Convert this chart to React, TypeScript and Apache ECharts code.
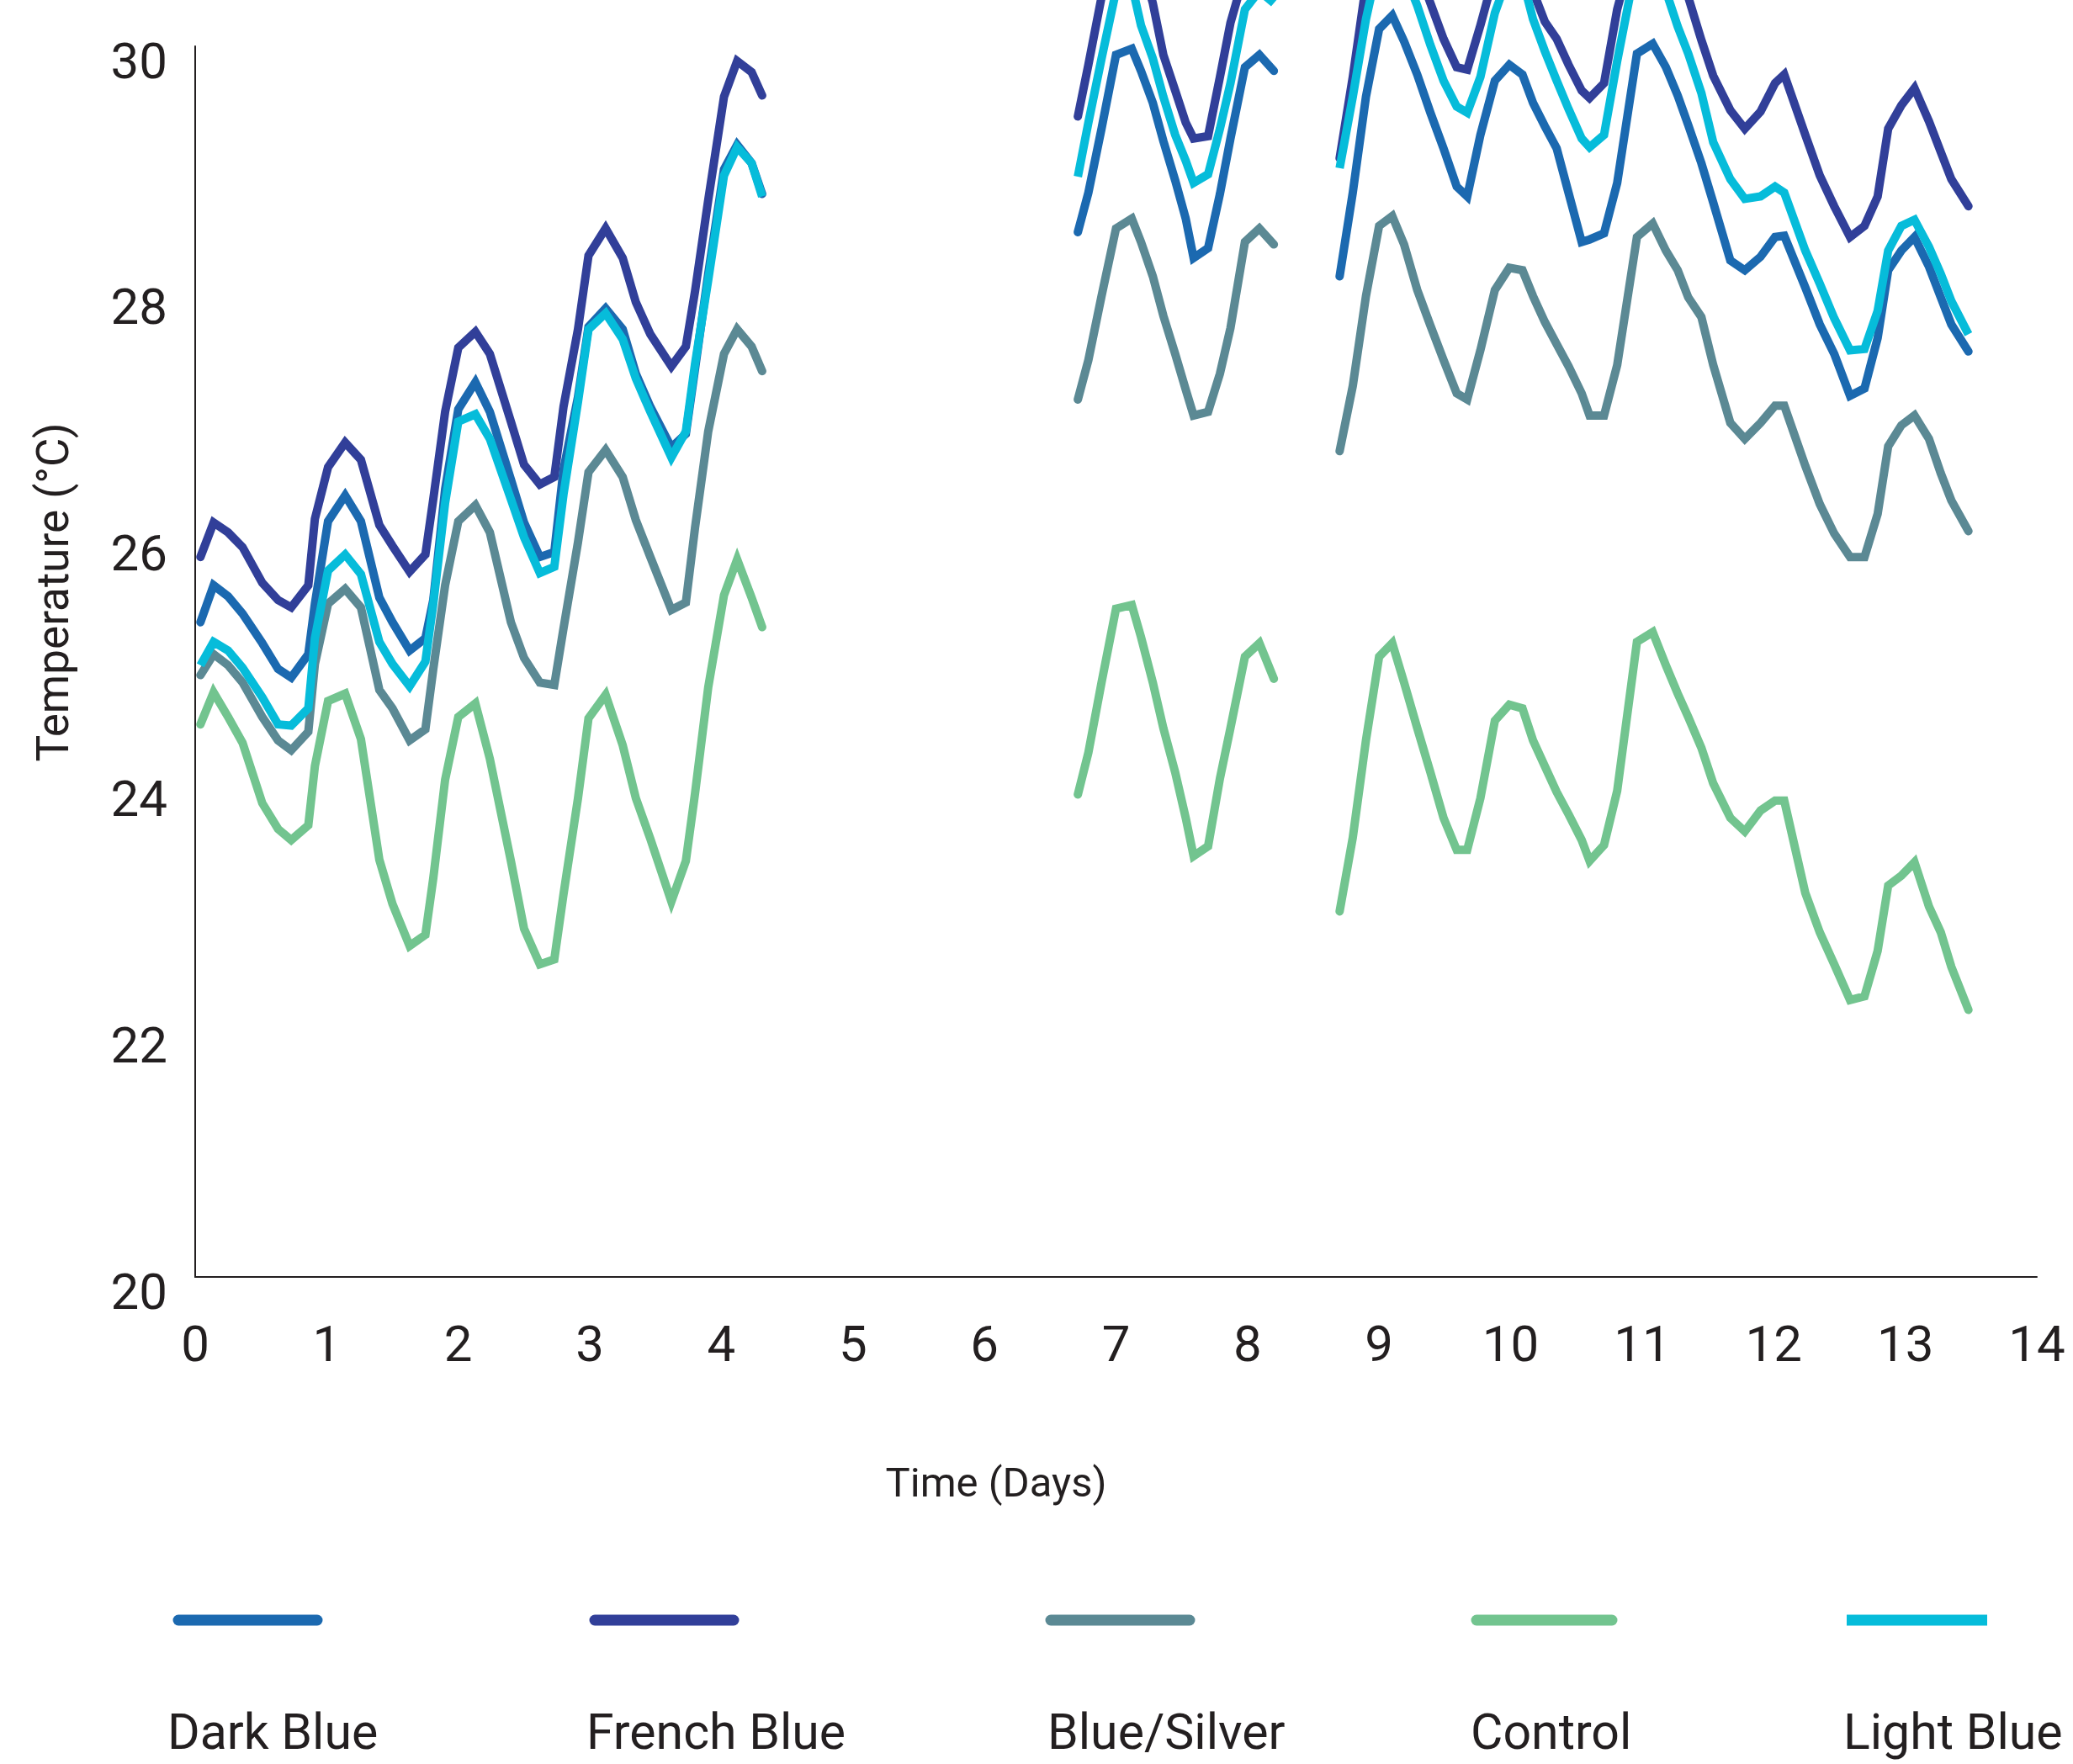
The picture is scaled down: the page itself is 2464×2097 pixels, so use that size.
import React, { useEffect, useRef } from "react";
import * as echarts from "echarts";

// ---- Data (time in days, temperature in °C) ----
const times1 = [0.04, 0.14, 0.25, 0.36, 0.51, 0.63, 0.73, 0.86, 0.91, 1.01, 1.14, 1.26, 1.40, 1.50, 1.63, 1.75, 1.81, 1.90, 2.00, 2.13, 2.24, 2.40, 2.50, 2.62, 2.73, 2.80, 2.91, 2.99, 3.12, 3.25, 3.35, 3.46, 3.62, 3.73, 3.80, 3.90, 4.02, 4.12, 4.23, 4.31];
const times2 = [6.71, 6.79, 6.89, 7.00, 7.12, 7.19, 7.28, 7.36, 7.45, 7.53, 7.59, 7.70, 7.79, 7.87, 7.98, 8.09, 8.20];
const times3 = [8.70, 8.80, 8.90, 9.00, 9.10, 9.19, 9.29, 9.39, 9.49, 9.59, 9.67, 9.77, 9.88, 9.99, 10.09, 10.17, 10.26, 10.35, 10.44, 10.54, 10.60, 10.71, 10.81, 10.96, 11.08, 11.18, 11.27, 11.35, 11.45, 11.54, 11.67, 11.78, 11.90, 12.01, 12.08, 12.24, 12.35, 12.46, 12.58, 12.69, 12.79, 12.87, 12.97, 13.07, 13.18, 13.27, 13.35, 13.48];

const darkBlue1 = [25.32, 25.62, 25.53, 25.39, 25.15, 24.94, 24.87, 25.06, 25.47, 26.14, 26.35, 26.14, 25.52, 25.32, 25.09, 25.19, 25.50, 26.40, 27.05, 27.27, 27.03, 26.48, 26.13, 25.85, 25.89, 26.56, 27.15, 27.72, 27.87, 27.70, 27.34, 27.07, 26.74, 26.85, 27.38, 28.15, 29.00, 29.20, 29.05, 28.80];
const darkBlue2 = [28.49, 28.81, 29.33, 29.93, 29.98, 29.80, 29.54, 29.23, 28.91, 28.60, 28.28, 28.36, 28.80, 29.25, 29.83, 29.93, 29.80];
const darkBlue3 = [28.13, 28.81, 29.59, 30.14, 30.25, 30.04, 29.77, 29.46, 29.17, 28.86, 28.78, 29.28, 29.72, 29.85, 29.77, 29.54, 29.35, 29.17, 28.81, 28.41, 28.43, 28.48, 28.89, 29.94, 30.02, 29.83, 29.60, 29.36, 29.05, 28.73, 28.26, 28.18, 28.29, 28.45, 28.46, 28.04, 27.74, 27.50, 27.16, 27.22, 27.63, 28.18, 28.34, 28.45, 28.21, 27.96, 27.74, 27.52];

const frenchBlue1 = [25.85, 26.13, 26.05, 25.93, 25.64, 25.50, 25.44, 25.62, 26.16, 26.58, 26.78, 26.64, 26.11, 25.94, 25.73, 25.87, 26.32, 27.03, 27.55, 27.68, 27.50, 26.95, 26.60, 26.44, 26.50, 27.07, 27.70, 28.30, 28.52, 28.28, 27.92, 27.66, 27.40, 27.56, 28.01, 28.75, 29.59, 29.88, 29.79, 29.60];
const frenchBlue2 = [29.43, 29.85, 30.40, 30.80, 30.85, 30.70, 30.35, 29.93, 29.64, 29.38, 29.25, 29.27, 29.75, 30.19, 30.60, 30.80, 30.70];
const frenchBlue3 = [29.09, 29.75, 30.50, 31.00, 31.10, 30.90, 30.65, 30.35, 30.06, 29.83, 29.81, 30.17, 30.60, 30.75, 30.70, 30.45, 30.20, 30.06, 29.85, 29.64, 29.58, 29.70, 30.30, 30.90, 31.00, 30.80, 30.60, 30.40, 30.05, 29.76, 29.48, 29.33, 29.47, 29.70, 29.77, 29.28, 28.95, 28.70, 28.45, 28.54, 28.78, 29.33, 29.52, 29.66, 29.39, 29.14, 28.92, 28.70];

const blueSilver1 = [24.89, 25.06, 24.97, 24.83, 24.55, 24.36, 24.28, 24.43, 24.98, 25.47, 25.59, 25.44, 24.77, 24.62, 24.36, 24.45, 24.94, 25.62, 26.14, 26.27, 26.05, 25.32, 25.03, 24.83, 24.81, 25.27, 25.97, 26.54, 26.72, 26.50, 26.15, 25.85, 25.42, 25.48, 26.09, 26.87, 27.50, 27.70, 27.56, 27.36];
const blueSilver2 = [27.13, 27.45, 27.97, 28.52, 28.60, 28.41, 28.13, 27.81, 27.50, 27.21, 27.00, 27.03, 27.34, 27.71, 28.41, 28.52, 28.39];
const blueSilver3 = [26.71, 27.24, 27.97, 28.54, 28.62, 28.39, 28.02, 27.73, 27.45, 27.18, 27.13, 27.53, 28.02, 28.20, 28.18, 27.97, 27.76, 27.58, 27.40, 27.18, 27.00, 27.00, 27.41, 28.45, 28.56, 28.34, 28.18, 27.96, 27.80, 27.41, 26.94, 26.81, 26.94, 27.08, 27.08, 26.59, 26.28, 26.04, 25.85, 25.85, 26.20, 26.75, 26.92, 27.00, 26.81, 26.53, 26.31, 26.06];

const control1 = [24.49, 24.75, 24.55, 24.34, 23.85, 23.64, 23.55, 23.67, 24.15, 24.68, 24.74, 24.37, 23.39, 23.03, 22.69, 22.78, 23.24, 24.04, 24.55, 24.66, 24.21, 23.38, 22.83, 22.54, 22.58, 23.11, 23.89, 24.54, 24.73, 24.32, 23.89, 23.56, 23.05, 23.38, 23.93, 24.79, 25.54, 25.83, 25.52, 25.28];
const control2 = [23.92, 24.26, 24.83, 25.43, 25.46, 25.20, 24.83, 24.46, 24.10, 23.73, 23.42, 23.50, 24.05, 24.46, 25.04, 25.15, 24.86];
const control3 = [22.97, 23.57, 24.36, 25.04, 25.15, 24.83, 24.46, 24.10, 23.73, 23.47, 23.47, 23.89, 24.52, 24.65, 24.62, 24.36, 24.15, 23.94, 23.76, 23.55, 23.38, 23.51, 23.95, 25.16, 25.24, 24.97, 24.74, 24.55, 24.30, 24.01, 23.73, 23.62, 23.79, 23.87, 23.87, 23.12, 22.80, 22.54, 22.25, 22.28, 22.65, 23.18, 23.26, 23.37, 23.01, 22.80, 22.52, 22.17];

const lightBlue1 = [24.97, 25.16, 25.09, 24.95, 24.71, 24.49, 24.48, 24.62, 25.19, 25.74, 25.87, 25.71, 25.16, 24.98, 24.80, 25.00, 25.47, 26.29, 26.95, 27.01, 26.81, 26.32, 26.01, 25.72, 25.77, 26.36, 27.11, 27.70, 27.83, 27.62, 27.30, 27.03, 26.66, 26.87, 27.42, 28.10, 28.95, 29.18, 29.05, 28.78];
const lightBlue2 = [28.94, 29.38, 29.90, 30.45, 30.50, 30.17, 29.90, 29.59, 29.28, 29.07, 28.89, 28.96, 29.33, 29.70, 30.30, 30.45, 30.35];
const lightBlue3 = [29.01, 29.59, 30.22, 30.70, 30.80, 30.60, 30.33, 30.01, 29.72, 29.51, 29.46, 29.75, 30.27, 30.60, 30.55, 30.22, 29.96, 29.72, 29.49, 29.25, 29.18, 29.28, 29.88, 30.70, 30.80, 30.45, 30.16, 29.94, 29.62, 29.22, 28.92, 28.76, 28.78, 28.86, 28.81, 28.34, 28.07, 27.79, 27.53, 27.54, 27.85, 28.34, 28.54, 28.59, 28.37, 28.15, 27.93, 27.66];

const seriesNames = ["Dark Blue", "French Blue", "Blue/Silver", "Control", "Light Blue"];
const seriesColors = ["#1b69b0", "#313f99", "#5b8994", "#72c48f", "#06bcda"];
const seriesValues = [
  [darkBlue1, darkBlue2, darkBlue3],
  [frenchBlue1, frenchBlue2, frenchBlue3],
  [blueSilver1, blueSilver2, blueSilver3],
  [control1, control2, control3],
  [lightBlue1, lightBlue2, lightBlue3],
];
const segmentTimes = [times1, times2, times3];

const xAxisName = "Time (Days)";
const yAxisName = "Temperature (°C)";

function joinSegments(vals: number[][]) {
  const out: (number | string)[][] = [];
  segmentTimes.forEach((t, i) => {
    if (i > 0) out.push([t[0], "-"]);
    t.forEach((x, j) => out.push([x, vals[i][j]]));
  });
  return out;
}

const FONT = "Roboto";
const TEXT = "#231f20";

export default function App() {
  const ref = useRef<HTMLDivElement>(null);
  useEffect(() => {
    if (!ref.current) return;
    const chart = echarts.init(ref.current, null, { renderer: "svg" });

    const legendLineX = [[212, 377], [707, 872], [1249, 1414], [1755, 1916], [2195, 2362]];
    const legendTextX = [199, 697, 1245, 1748, 2191];
    const graphic: any[] = [];
    seriesNames.forEach((name, i) => {
      const butt = i === 4;
      graphic.push({
        type: "line",
        shape: { x1: legendLineX[i][0], y1: 1926, x2: legendLineX[i][1], y2: 1926 },
        style: { stroke: seriesColors[i], lineWidth: 13, lineCap: butt ? "butt" : "round" },
      });
      graphic.push({
        type: "text",
        x: legendTextX[i],
        y: 2058,
        style: { text: name, font: `59px ${FONT}`, fill: TEXT, textAlign: "left", textVerticalAlign: "middle" },
      });
    });
    graphic.push({
      type: "text",
      x: 1184,
      y: 1762,
      style: { text: xAxisName, font: `49px ${FONT}`, fill: TEXT, textAlign: "center", textVerticalAlign: "middle" },
    });
    graphic.push({
      type: "text",
      x: 63,
      y: 704,
      rotation: Math.PI / 2,
      style: { text: yAxisName, font: `53px ${FONT}`, fill: TEXT, textAlign: "center", textVerticalAlign: "middle" },
    });

    chart.setOption({
      animation: false,
      backgroundColor: "#ffffff",
      grid: { left: 232, top: 55, right: 43, bottom: 579, containLabel: false },
      xAxis: {
        type: "value",
        min: 0,
        max: 14,
        interval: 1,
        axisLine: { show: true, lineStyle: { color: TEXT, width: 2 } },
        axisTick: { show: false },
        splitLine: { show: false },
        axisLabel: { color: TEXT, fontSize: 60, fontFamily: FONT, margin: 49 },
      },
      yAxis: {
        type: "value",
        min: 20,
        max: 30,
        interval: 2,
        axisLine: { show: true, lineStyle: { color: TEXT, width: 2 } },
        axisTick: { show: false },
        splitLine: { show: false },
        axisLabel: {
          color: TEXT,
          fontSize: 60,
          fontFamily: FONT,
          margin: 33,
          verticalAlign: "top",
          lineHeight: 34,
        },
      },
      series: seriesNames.map((name, i) => ({
        name,
        type: "line",
        data: joinSegments(seriesValues[i]),
        showSymbol: false,
        symbol: "none",
        clip: false,
        connectNulls: false,
        z: 2 + i,
        lineStyle: { color: seriesColors[i], width: 10, join: "miter", cap: i === 4 ? "butt" : "round" },
        itemStyle: { color: seriesColors[i] },
      })),
      graphic,
    });
    return () => chart.dispose();
  }, []);
  return (
    <div
      ref={ref}
      style={{ position: "absolute", left: 0, top: 0, width: 2464, height: 2097, background: "#fff" }}
    />
  );
}
